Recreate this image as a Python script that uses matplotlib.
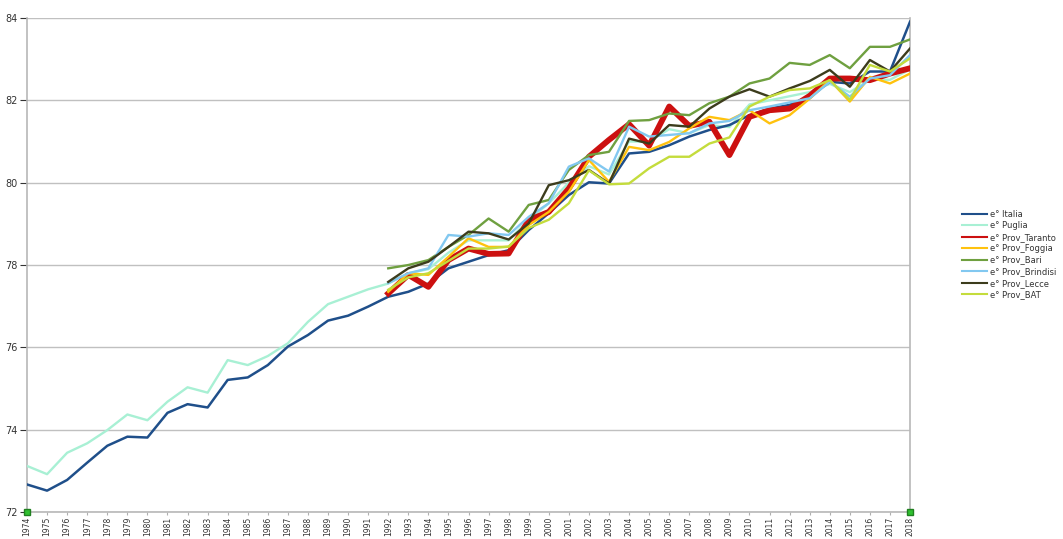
import matplotlib.pyplot as plt
from matplotlib.lines import Line2D

years = list(range(1974, 2019))
years_prov = list(range(1992, 2019))

italia = [72.67, 72.52, 72.78, 73.20, 73.61, 73.83, 73.81, 74.41, 74.62, 74.54,
          75.21, 75.27, 75.57, 76.02, 76.30, 76.65, 76.77, 76.99,
          77.23, 77.35, 77.55, 77.92, 78.08, 78.24, 78.36, 78.85, 79.26, 79.70,
          80.01, 79.98, 80.71, 80.75, 80.91, 81.12, 81.28, 81.40, 81.64, 81.80,
          81.89, 82.09, 82.45, 82.41, 82.70, 82.70, 83.91]
puglia = [73.12, 72.92, 73.44, 73.67, 73.99, 74.37, 74.23, 74.68, 75.03, 74.90,
          75.69, 75.57, 75.79, 76.10, 76.62, 77.05, 77.23, 77.41,
          77.55, 77.80, 77.90, 78.30, 78.60, 78.60, 78.60, 79.10, 79.50, 80.00,
          80.40, 80.20, 81.00, 81.00, 81.30, 81.20, 81.40, 81.35, 81.90, 82.00,
          82.10, 82.20, 82.40, 82.20, 82.50, 82.50, 82.75]
taranto = [77.31, 77.76, 77.47, 78.12, 78.40, 78.27, 78.28, 79.09, 79.29, 79.86,
           80.63, 81.04, 81.42, 80.90, 81.85, 81.38, 81.48, 80.67, 81.60, 81.76,
           81.80, 82.11, 82.53, 82.53, 82.49, 82.65, 82.78]
foggia = [77.35, 77.80, 77.76, 78.20, 78.65, 78.44, 78.44, 78.97, 79.29, 79.78,
          80.55, 80.02, 80.87, 80.79, 80.99, 81.32, 81.60, 81.52, 81.76, 81.44,
          81.64, 82.04, 82.49, 81.97, 82.57, 82.41, 82.65]
bari = [77.92, 78.00, 78.12, 78.44, 78.73, 79.13, 78.81, 79.46, 79.58, 80.31,
        80.67, 80.75, 81.50, 81.52, 81.68, 81.64, 81.93, 82.09, 82.41, 82.53,
        82.91, 82.86, 83.10, 82.78, 83.30, 83.30, 83.48]
brindisi = [77.56, 77.80, 77.92, 78.73, 78.69, 78.77, 78.73, 79.17, 79.50, 80.39,
            80.59, 80.27, 81.36, 81.12, 81.16, 81.20, 81.44, 81.50, 81.76, 81.85,
            81.95, 82.05, 82.45, 82.09, 82.53, 82.61, 83.10]
lecce = [77.59, 77.92, 78.08, 78.44, 78.81, 78.77, 78.62, 79.01, 79.94, 80.06,
         80.31, 79.98, 81.07, 80.95, 81.40, 81.36, 81.80, 82.09, 82.27, 82.09,
         82.29, 82.47, 82.74, 82.33, 82.98, 82.70, 83.26]
bat = [77.40, 77.70, 77.80, 78.10, 78.40, 78.40, 78.45, 78.90, 79.10, 79.50,
       80.30, 79.96, 79.98, 80.35, 80.63, 80.63, 80.95, 81.10, 81.85, 82.09,
       82.25, 82.29, 82.49, 82.01, 82.86, 82.70, 83.02]

labels = ["e° Italia", "e° Puglia", "e° Prov_Taranto", "e° Prov_Foggia",
          "e° Prov_Bari", "e° Prov_Brindisi", "e° Prov_Lecce", "e° Prov_BAT"]
colors = ["#1f4f8a", "#a8f0d4", "#cc1010", "#ffc20e",
          "#6fa040", "#82c8f0", "#3c3c1c", "#c4dc3c"]

fig = plt.figure(figsize=(10.63, 5.39), dpi=100)
ax = fig.add_axes([0.0254, 0.050, 0.8307, 0.9166])

ax.plot(years, puglia, color=colors[1], lw=1.7, zorder=3)
ax.plot(years, italia, color=colors[0], lw=1.8, zorder=3)
ax.plot(years_prov, taranto, color=colors[2], lw=4.2, zorder=3)
ax.plot(years_prov, foggia, color=colors[3], lw=1.7, zorder=3)
ax.plot(years_prov, bari, color=colors[4], lw=1.7, zorder=3)
ax.plot(years_prov, brindisi, color=colors[5], lw=1.7, zorder=3)
ax.plot(years_prov, lecce, color=colors[6], lw=1.7, zorder=3)
ax.plot(years_prov, bat, color=colors[7], lw=1.7, zorder=3)

ax.set_xlim(1974, 2018)
ax.set_ylim(72, 84)
ax.set_yticks(range(72, 85, 2))
ax.set_xticks(years)
ax.set_xticklabels([str(y) for y in years], rotation=90, fontsize=5.5, color="#333333")
ax.tick_params(axis="y", labelsize=7, colors="#333333", length=5, pad=2)
ax.tick_params(axis="x", length=2.5, pad=1, color="#b0b0b0")
ax.grid(axis="y", color="#c0c0c0", lw=1)
ax.set_axisbelow(True)
ax.spines["top"].set_visible(False)
for s in ["left", "right", "bottom"]:
    ax.spines[s].set_color("#b8b8b8")
    ax.spines[s].set_linewidth(1.2)

# selection handles
ax.plot([1974, 2018], [72, 72], "s", color="#30c030", mec="#208020",
        ms=5, clip_on=False, zorder=5, ls="none")

handles = [Line2D([], [], color=c, lw=1.5) for c in colors]
fig.legend(handles, labels, loc="upper left", bbox_to_anchor=(0.898, 0.625),
           frameon=False, fontsize=6, handlelength=3, labelspacing=0.3,
           handletextpad=0.3, labelcolor="#333333")

fig.savefig("out.png", dpi=100)
